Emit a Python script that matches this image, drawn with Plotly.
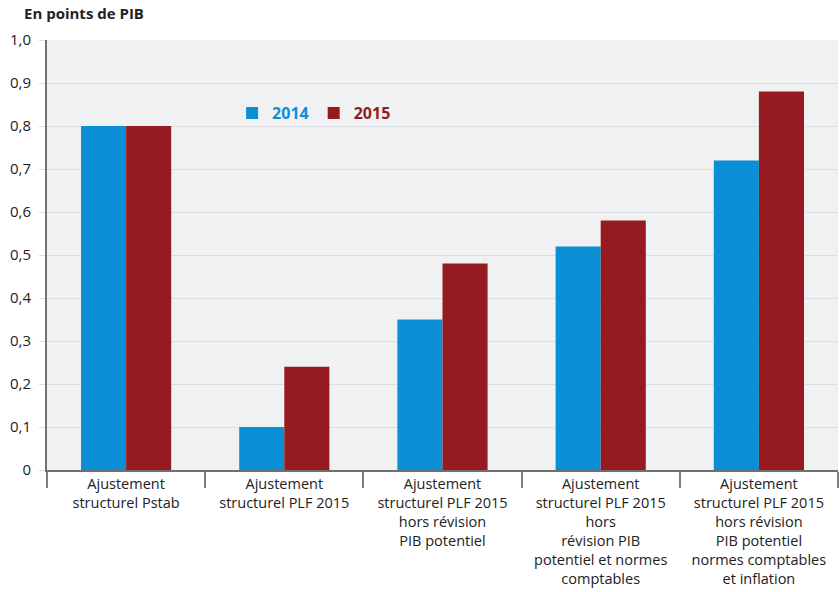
import plotly.graph_objects as go

categories = [
    "Ajustement<br>structurel Pstab",
    "Ajustement<br>structurel PLF 2015",
    "Ajustement<br>structurel PLF 2015<br>hors révision<br>PIB potentiel",
    "Ajustement<br>structurel PLF 2015<br>hors<br>révision PIB<br>potentiel et normes<br>comptables",
    "Ajustement<br>structurel PLF 2015<br>hors révision<br>PIB potentiel<br>normes comptables<br>et inflation",
]
vals_2014 = [0.80, 0.10, 0.35, 0.52, 0.72]
vals_2015 = [0.80, 0.24, 0.48, 0.58, 0.88]
y_ticks = [0, 0.1, 0.2, 0.3, 0.4, 0.5, 0.6, 0.7, 0.8, 0.9, 1.0]
y_labels = ["0", "0,1", "0,2", "0,3", "0,4", "0,5", "0,6", "0,7", "0,8", "0,9", "1,0"]

blue = "#0a8fd6"
red = "#961b21"

fig = go.Figure()
fig.add_trace(go.Bar(x=categories, y=vals_2014, marker_color=blue, marker_line_width=0,
                     name=f"<span style='color:{blue}'><b>2014</b></span>"))
fig.add_trace(go.Bar(x=categories, y=vals_2015, marker_color=red, marker_line_width=0,
                     name=f"<span style='color:{red}'><b>2015</b></span>"))

fig.update_layout(
    width=839, height=592,
    barmode="group", bargap=0.43, bargroupgap=0,
    plot_bgcolor="#f0f1f3", paper_bgcolor="white",
    margin=dict(l=47, r=1, t=40, b=122),
    font=dict(family="Open Sans", size=14, color="#222"),
    legend=dict(orientation="h", x=0.234, y=0.83, xanchor="left", yanchor="middle",
                bgcolor="rgba(0,0,0,0)", font=dict(size=16), itemwidth=30,
                traceorder="normal"),
    xaxis=dict(showline=True, linecolor="#707070", linewidth=2, tickson="boundaries",
               ticks="outside", ticklen=16, tickcolor="#808080", tickwidth=1.5,
               tickfont=dict(size=14.5), automargin=False),
    yaxis=dict(range=[0, 1.0], tickvals=y_ticks, ticktext=y_labels, showline=True,
               linecolor="#707070", linewidth=2, gridcolor="#dcdde0", gridwidth=1,
               ticks="outside", ticklen=6, tickcolor="#dcdde0", zeroline=False,
               ticklabelstandoff=5, tickfont=dict(size=15), automargin=False),
    annotations=[dict(text="<b>En points de PIB</b>", xref="paper", yref="paper",
                      x=-0.032, y=1.063, xanchor="left", yanchor="middle",
                      showarrow=False, font=dict(size=15, color="#222"))],
)

fig.write_html("out.html", config={"displayModeBar": False},
               post_script="document.body.style.margin='0';")
